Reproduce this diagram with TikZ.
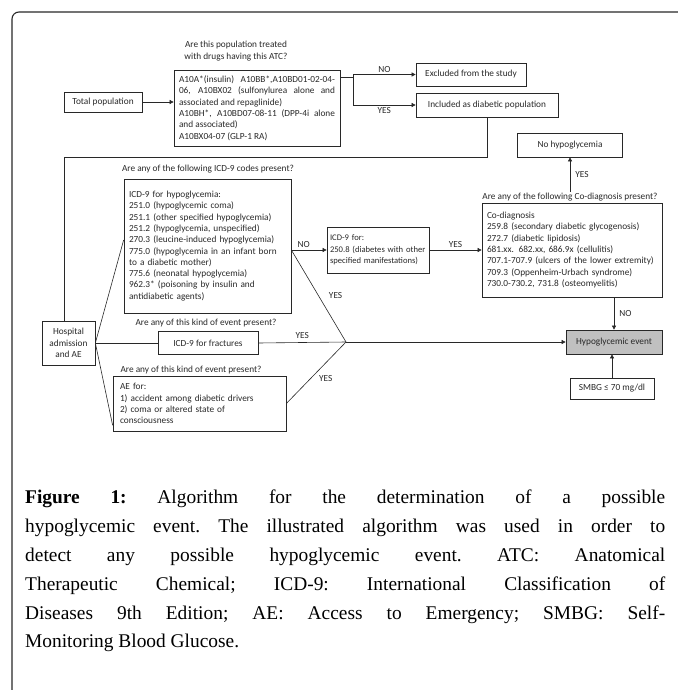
\documentclass[tikz,border=0pt]{standalone}
\usepackage{fontspec}
\setmainfont{Liberation Serif}
\newfontfamily\diagfont{Carlito}
\usetikzlibrary{positioning, arrows.meta, calc}
\definecolor{cline}{RGB}{40,40,40}
\definecolor{cevent}{RGB}{192,192,192}

\begin{document}
\begin{tikzpicture}[x=1pt, y=-1pt,
    font=\diagfont\fontsize{9.3}{11.3}\selectfont, text=cline,
    box/.style={draw=cline, line width=0.7pt, inner sep=3pt},
    txtbox/.style={box, align=left, inner xsep=5pt},
    question/.style={align=center, inner sep=1pt},
    answer/.style={inner sep=2pt},
    arr/.style={draw=cline, line width=0.6pt, -{Triangle[length=4pt, width=4pt]}},
    conn/.style={draw=cline, line width=0.6pt}]

  \useasboundingbox (0,0) rectangle (677,690);
  \draw[cline, line width=1.1pt, rounded corners=7pt] (12,720) -- (12,12) -- (700,12);

  % --- selection of the diabetic population ---
  \node[box, minimum width=78pt, minimum height=20pt] (total) at (103,102) {Total population};
  \node[question] (qatc) at (236,51) {Are this population treated\\with drugs having this ATC?};
  \node[txtbox, align=justify, text width=156pt, minimum height=76pt] (atc) at (257,108)
    {A10A*(insulin) A10BB*,A10BD01-02-04-\linebreak 06, A10BX02 (sulfonylurea alone and\linebreak
     associated and repaglinide)\\ A10BH*, A10BD07-08-11 (DPP-4i alone\linebreak
     and associated)\\ A10BX04-07 (GLP-1 RA)};
  \node[box, minimum width=110pt, minimum height=23pt] (excl) at (471,74.5) {Excluded from the study};
  \node[box, minimum width=142pt, minimum height=24pt] (incl) at (487,105) {Included as diabetic population};
  \coordinate (split) at (353,77);

  \draw[arr] (total.east) -- (atc.west |- total.east);
  \draw[conn] (atc.east |- split) -- (split);
  \draw[arr] (split) |- node[answer, pos=0.75, above] (ansno1) {NO} (excl.west);
  \draw[arr] (split) |- node[answer, pos=0.75, below] (ansyes1) {YES} (incl.west);

  % --- hospital admission and AE ---
  \node[box, align=center, minimum width=53pt, minimum height=44pt] (hosp) at (68.5,343) {Hospital\\admission\\and AE};
  \coordinate (loop) at (64,157);
  \draw[conn] (incl.south) |- (loop) -- (loop |- hosp.north);

  \node[question] (qicd) at (208,169) {Are any of the following ICD-9 codes present?};
  \node[txtbox, text width=157pt, minimum height=134pt] (hypo) at (207.5,246)
    {ICD-9 for hypoglycemia:\\ 251.0 (hypoglycemic coma)\\ 251.1 (other specified hypoglycemia)\\
     251.2 (hypoglycemia, unspecified)\\ 270.3 (leucine-induced hypoglycemia)\\
     775.0 (hypoglycemia in an infant born\\ to a diabetic mother)\\ 775.6 (neonatal hypoglycemia)\\
     962.3* (poisoning by insulin and\\ antidiabetic agents)};

  \node[question] (qfrac) at (206,323) {Are any of this kind of event present?};
  \node[box, minimum width=100pt, minimum height=23pt] (frac) at (208,343) {ICD-9 for fractures};

  \node[question] (qae) at (191,370) {Are any of this kind of event present?};
  \node[txtbox, inner xsep=7pt, text width=159pt, minimum height=55pt] (ae) at (199.5,403.5)
    {AE for:\\ 1) accident among diabetic drivers\\ 2) coma or altered state of\\ consciousness};

  \draw[conn] (hosp.east) -- ([yshift=6pt]hypo.west);
  \draw[conn] (hosp.east) -- (frac.west);
  \draw[conn] (hosp.east) -- ([yshift=6pt]ae.south west);

  % --- secondary diagnoses ---
  \node[txtbox, inner xsep=3pt, text width=96pt, minimum height=46pt,
        font=\diagfont\fontsize{8.6}{11.3}\selectfont] (diabicd) at (378,250)
    {ICD-9 for:\\ 250.8 (diabetes with other\\ specified manifestations)};
  \node[question] (qcod) at (570,197) {Are any of the following Co-diagnosis present?};
  \node[txtbox, text width=170pt, minimum height=94pt] (codiag) at (572,250)
    {Co-diagnosis\\ 259.8 (secondary diabetic glycogenosis)\\ 272.7 (diabetic lipidosis)\\
     681.xx. 682.xx, 686.9x (cellulitis)\\ 707.1-707.9 (ulcers of the lower extremity)\\
     709.3 (Oppenheim-Urbach syndrome)\\ 730.0-730.2, 731.8 (osteomyelitis)};
  \node[box, minimum width=105pt, minimum height=24pt] (nohypo) at (570,145) {No hypoglycemia};

  % --- outcome ---
  \node[box, fill=cevent, minimum width=96pt, minimum height=24pt] (hypev) at (614,342) {Hypoglycemic event};
  \node[box, minimum width=84pt, minimum height=21pt] (smbg) at (612,388.5) {SMBG ≤ 70 mg/dl};
  \coordinate (join) at (346,342);
  \coordinate (noout) at (hypo.east |- diabicd.west);

  \draw[arr] (noout) -- node[answer, pos=0.35, above] (ansno2) {NO} (diabicd.west);
  \draw[arr] (diabicd) -- node[answer, above] (ansyes2) {YES} (codiag);
  \draw[arr] (qcod.north) -- node[answer, right=3pt] (ansyes6) {YES} (nohypo.south);
  \draw[arr] (hypev.north |- codiag.south) -- node[answer, right=3pt] (ansno3) {NO} (hypev.north);
  \draw[arr] (smbg.north) -- (smbg.north |- hypev.south);

  \draw[conn] (noout) -- node[answer, midway, right=8pt] (ansyes3) {YES} (join);
  \draw[conn] (frac.east) -- node[answer, midway, above=2pt] (ansyes4) {YES} (join);
  \draw[conn] (ae.east) -- node[answer, midway, below right=1pt] (ansyes5) {YES} (join);
  \draw[arr] (join) -- (hypev.west);

  % --- caption ---
  \node[anchor=north west, inner sep=0pt, text width=640pt, align=justify, text=black,
        font=\normalfont\fontsize{19.4}{28.8}\selectfont\frenchspacing] (caption) at (25,490)
    {\textbf{Figure 1:} Algorithm for the determination of a possible\linebreak
     hypoglycemic event. The illustrated algorithm was used in order to\linebreak
     detect any possible hypoglycemic event. ATC: Anatomical\linebreak
     Therapeutic Chemical; ICD-9: International Classification of\linebreak
     Diseases 9th Edition; AE: Access to Emergency; SMBG: Self-\linebreak
     Monitoring Blood Glucose.};
\end{tikzpicture}
\end{document}
